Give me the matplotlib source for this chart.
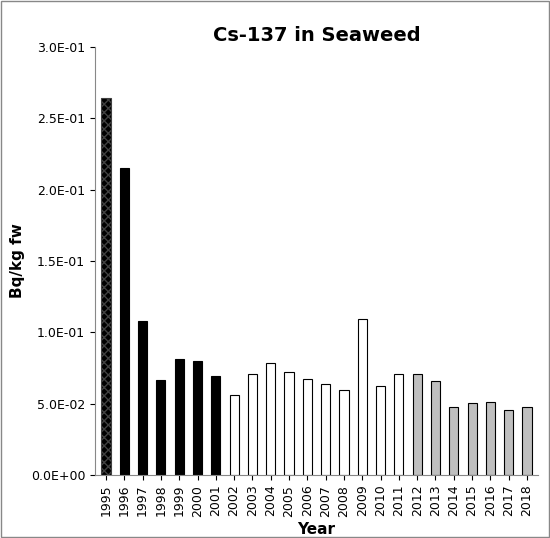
import matplotlib.pyplot as plt
import numpy as np

years = [str(y) for y in range(1995, 2019)]
values = [0.264, 0.215, 0.108, 0.0665, 0.081, 0.080, 0.0695, 0.056, 0.0705, 0.0785,
          0.072, 0.067, 0.064, 0.0595, 0.109, 0.0625, 0.0705, 0.0705, 0.066, 0.0475,
          0.0505, 0.051, 0.0455, 0.0475]
colors = ['black'] * 7 + ['white'] * 10 + ['#bfbfbf'] * 7

fig = plt.figure(figsize=(5.5, 5.38), dpi=100)
ax = fig.add_axes([95 / 550, 1 - 475 / 538, 443 / 550, 428 / 538])
x = np.arange(len(years))
bars = ax.bar(x, values, width=0.5, color=colors, edgecolor='black', linewidth=0.8)
bars[0].set_hatch('xxxx')
bars[0].set_edgecolor('#404040')
ax.set_xlim(-0.6, len(years) - 0.4)
ax.set_ylim(0, 0.30)
ticks = np.arange(0, 0.31, 0.05)
ax.set_yticks(ticks)
ax.set_yticklabels([f"{v:.1E}" for v in ticks], fontsize=9)
ax.set_xticks(x)
ax.set_xticklabels(years, rotation=90, fontsize=9)
ax.set_xlabel('Year', fontsize=11, fontweight='bold')
ax.set_ylabel('Bq/kg fw', fontsize=11, fontweight='bold')
ax.set_title('Cs-137 in Seaweed', fontsize=14, fontweight='bold', pad=4)
for s in ['top', 'right']:
    ax.spines[s].set_visible(False)
ax.spines['left'].set_color('#888888')
ax.spines['bottom'].set_color('#888888')
fig.patches.append(plt.Rectangle((0.002, 0.002), 0.996, 0.996, transform=fig.transFigure,
                                 fill=False, edgecolor='#888888', linewidth=1))
fig.savefig('out.png', dpi=100)
